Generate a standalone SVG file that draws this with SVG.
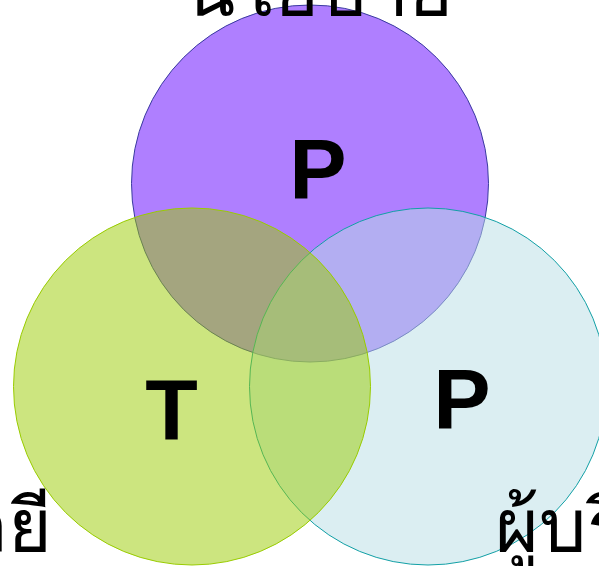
<svg xmlns="http://www.w3.org/2000/svg" width="599" height="566" viewBox="0 0 599 566">
<style>
.lbl{font-family:"Liberation Sans",Arial,sans-serif;font-weight:bold;font-size:86px;fill:#000;text-anchor:middle}
.th{font-family:"Liberation Sans","Noto Sans",sans-serif;font-size:75px;fill:#000}
.c{stroke-width:1}
</style>
<rect width="599" height="566" fill="#fff"/>
<g id="process"><circle class="c" cx="310" cy="183.5" r="178.5" fill="#6000ff" fill-opacity="0.5" stroke="#3a3aa0"/></g>
<g id="people"><circle class="c" cx="428" cy="386.5" r="178.5" fill="#b7dde5" fill-opacity="0.5" stroke="#12a0a6"/></g>
<g id="technology"><circle class="c" cx="192" cy="386.5" r="178.5" fill="#99cc00" fill-opacity="0.5" stroke="#99cc00"/></g>
<g id="labels">
<text class="lbl" x="318" y="199">P</text>
<text class="lbl" x="171.5" y="439">T</text>
<text class="lbl" x="462" y="429">P</text>
<text class="th" x="318" y="16" text-anchor="middle">นโยบาย</text>
<text class="th" x="52" y="552" text-anchor="end">เทคโนโลยี</text>
<text class="th" x="495" y="552">ผู้บริหาร</text>
</g>
</svg>
